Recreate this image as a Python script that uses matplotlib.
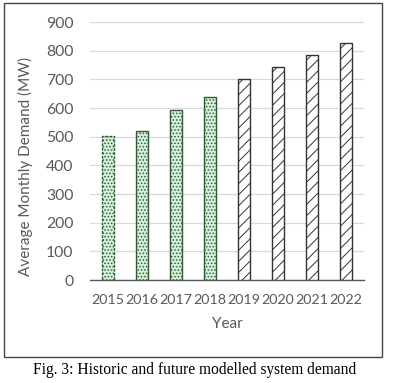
import matplotlib
matplotlib.use("Agg")
import matplotlib.pyplot as plt
from matplotlib.patches import Rectangle

years = ['2015', '2016', '2017', '2018', '2019', '2020', '2021', '2022']
demand = [502, 519, 592, 640, 700, 742, 784, 826]
historic = [True, True, True, True, False, False, False, False]

grey_txt = '#595959'
plt.rcParams['font.family'] = ['Lato', 'DejaVu Sans']
plt.rcParams['hatch.linewidth'] = 0.7

fig = plt.figure(figsize=(3.99, 3.83), dpi=100)
ax = fig.add_axes([90/399, 1-280/383, (364-90)/399, (280-22)/383])

x = list(range(len(years)))
for i in x:
    if historic[i]:
        plt.rcParams['hatch.color'] = '#5fa86a'
        b = ax.bar(i, demand[i], width=0.33, color='#d4f0d8', edgecolor='#2f5a36',
                   hatch='.....', linewidth=1.0, zorder=3)
        if i == 0:
            b[0].set_linestyle((0, (2, 1)))
    else:
        plt.rcParams['hatch.color'] = '#333333'
        ax.bar(i, demand[i], width=0.33, color='white', edgecolor='#333333',
               hatch='///', linewidth=1.0, zorder=3)

ax.set_xlim(-0.53, 7.53)
ax.set_ylim(0, 900)
ax.set_yticks(range(0, 901, 100))
ax.set_xticks(x)
ax.set_xticklabels(years)
ax.yaxis.grid(True, color='#d9d9d9', linewidth=0.9, zorder=0)
ax.set_axisbelow(True)
for s in ['top', 'right', 'left']:
    ax.spines[s].set_visible(False)
ax.spines['bottom'].set_color('#595959')
ax.spines['bottom'].set_linewidth(1.0)
ax.tick_params(axis='y', length=0, labelsize=11.3, colors=grey_txt, pad=12)
ax.tick_params(axis='x', length=0, labelsize=10.3, colors=grey_txt, pad=10)
ax.set_xlabel('Year', fontsize=11, color=grey_txt, labelpad=8)
ax.set_ylabel('Average Monthly Demand (MW)', fontsize=11, color=grey_txt)
ax.yaxis.set_label_coords(-0.208, 0.44)

# outer chart frame
fig.patches.append(Rectangle((4/399, 1-357/383), 378/399, 354/383, transform=fig.transFigure,
                             fill=False, edgecolor='#444444', linewidth=1.0))

fig.text(195/399, 1-370/383, 'Fig. 3: Historic and future modelled system demand',
         ha='center', va='center', fontsize=11.2, family='Liberation Serif', color='black')

fig.savefig('out.png', dpi=100)
